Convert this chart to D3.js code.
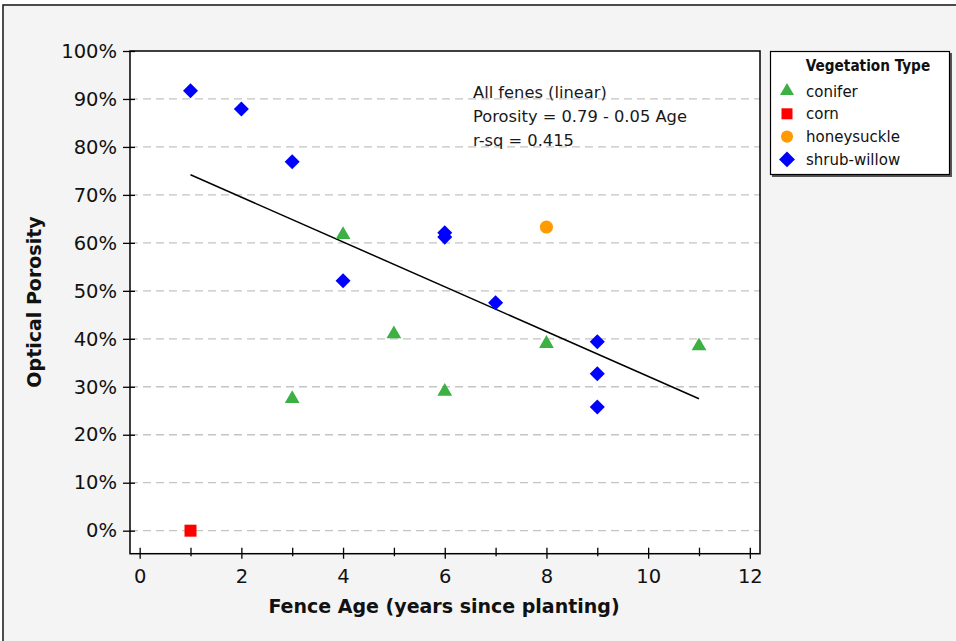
<!DOCTYPE html>
<html>
<head>
<meta charset="utf-8">
<script src="https://cdn.jsdelivr.net/npm/d3@7"></script>
<style>
  body { margin: 0; background: #fff; }
  svg { display: block; }
</style>
</head>
<body>
<svg id="chart" width="956" height="641"></svg>
<script>
// Data
const types = ['conifer', 'corn', 'honeysuckle', 'shrub-willow'];
const coniferAge = [3, 4, 5, 6, 8, 11];
const coniferPorosity = [0.275, 0.617, 0.41, 0.29, 0.39, 0.385];
const cornAge = [1];
const cornPorosity = [0.0];
const honeysuckleAge = [8];
const honeysucklePorosity = [0.633];
const willowAge = [1, 2, 3, 4, 6, 6, 7, 9, 9, 9];
const willowPorosity = [0.917, 0.879, 0.769, 0.521, 0.621, 0.612, 0.475, 0.394, 0.327, 0.258];
const fitAge = [1, 11];
const fitPorosity = [0.742, 0.275];
const yTicks = [0, 0.1, 0.2, 0.3, 0.4, 0.5, 0.6, 0.7, 0.8, 0.9, 1.0];
const xTicks = [0, 1, 2, 3, 4, 5, 6, 7, 8, 9, 10, 11, 12];
const noteLines = ['All fenes (linear)', 'Porosity = 0.79 - 0.05 Age', 'r-sq = 0.415'];

const colors = {
  'conifer': '#3cb043',
  'corn': '#ff0000',
  'honeysuckle': '#ff9a00',
  'shrub-willow': '#0000ff',
};

const svg = d3.select('#chart');
const font = 'DejaVu Sans, sans-serif';

// outer panel
svg.append('rect')
  .attr('x', 3).attr('y', 5).attr('width', 1000).attr('height', 700)
  .attr('fill', '#f4f4f4').attr('stroke', '#222').attr('stroke-width', 1.6);

const x = d3.scaleLinear().domain([-0.19, 12.2]).range([130, 760]);
const y = d3.scaleLinear().domain([-0.048, 1]).range([553.7, 51]);

// plot area
svg.append('rect')
  .attr('x', x.range()[0]).attr('y', y.range()[1])
  .attr('width', x.range()[1] - x.range()[0])
  .attr('height', y.range()[0] - y.range()[1])
  .attr('fill', '#fff');

// grid lines
svg.append('g')
  .selectAll('line')
  .data(yTicks.filter(d => d < 1))
  .join('line')
  .attr('x1', x.range()[0]).attr('x2', x.range()[1])
  .attr('y1', d => y(d)).attr('y2', d => y(d))
  .attr('stroke', '#c4c4c4').attr('stroke-width', 1.3)
  .attr('stroke-dasharray', '8,5');

// regression line
svg.append('line')
  .attr('x1', x(fitAge[0])).attr('y1', y(fitPorosity[0]))
  .attr('x2', x(fitAge[1])).attr('y2', y(fitPorosity[1]))
  .attr('stroke', '#000').attr('stroke-width', 1.5);

// frame
svg.append('rect')
  .attr('x', x.range()[0]).attr('y', y.range()[1])
  .attr('width', x.range()[1] - x.range()[0])
  .attr('height', y.range()[0] - y.range()[1])
  .attr('fill', 'none').attr('stroke', '#000').attr('stroke-width', 1.5);

// y axis
const yAxis = svg.append('g')
  .attr('transform', `translate(${x.range()[0]},0)`)
  .call(d3.axisLeft(y).tickValues(yTicks).tickFormat(d3.format('.0%'))
    .tickSizeInner(7).tickSizeOuter(0).tickPadding(6));
yAxis.select('.domain').remove();
yAxis.selectAll('.tick line').attr('x1', 5).attr('stroke', '#000').attr('stroke-width', 1.3);
yAxis.selectAll('.tick text')
  .attr('font-family', font).attr('font-size', 19.5).attr('fill', '#111');

// x axis
const xAxis = svg.append('g')
  .attr('transform', `translate(0,${y.range()[0]})`)
  .call(d3.axisBottom(x).tickValues(xTicks)
    .tickFormat(d => (d % 2 === 0 ? d : ''))
    .tickSizeInner(5).tickSizeOuter(0).tickPadding(10));
xAxis.select('.domain').remove();
xAxis.selectAll('.tick line')
  .attr('y1', -6)
  .attr('y2', d => (d % 2 === 0 ? 5 : 2.5))
  .attr('stroke', '#000').attr('stroke-width', 1.3);
xAxis.selectAll('.tick text')
  .attr('font-family', font).attr('font-size', 19.5).attr('fill', '#111');

// axis titles
svg.append('text')
  .attr('x', (x.range()[0] + x.range()[1]) / 2 - 1).attr('y', 613)
  .attr('text-anchor', 'middle')
  .attr('font-family', font).attr('font-size', 19).attr('font-weight', 'bold')
  .attr('fill', '#111')
  .text('Fence Age (years since planting)');

svg.append('text')
  .attr('transform', 'translate(41,302) rotate(-90)')
  .attr('text-anchor', 'middle')
  .attr('font-family', font).attr('font-size', 19).attr('font-weight', 'bold')
  .attr('fill', '#111')
  .text('Optical Porosity');

// annotation
svg.append('g')
  .selectAll('text')
  .data(noteLines)
  .join('text')
  .attr('x', 473).attr('y', (d, i) => 98 + i * 24)
  .attr('font-family', font).attr('font-size', 16.3).attr('fill', '#1a1a1a')
  .text(d => d);

// markers
const shapes = {
  'conifer': d3.symbolTriangle,
  'corn': d3.symbolSquare,
  'honeysuckle': d3.symbolCircle,
  'shrub-willow': d3.symbolDiamond2,
};
const sizes = { 'conifer': 95, 'corn': 144, 'honeysuckle': 135, 'shrub-willow': 144 };

function pointsOf(type, ages, vals) {
  return ages.map((a, i) => ({ type, age: a, porosity: vals[i] }));
}
const points = [].concat(
  pointsOf('conifer', coniferAge, coniferPorosity),
  pointsOf('corn', cornAge, cornPorosity),
  pointsOf('honeysuckle', honeysuckleAge, honeysucklePorosity),
  pointsOf('shrub-willow', willowAge, willowPorosity),
);

svg.append('g')
  .selectAll('path')
  .data(points)
  .join('path')
  .attr('transform', d => `translate(${x(d.age)},${y(d.porosity)})`)
  .attr('d', d => d3.symbol(shapes[d.type], sizes[d.type])())
  .attr('fill', d => colors[d.type]);

// legend
const legend = svg.append('g');
legend.append('rect')
  .attr('x', 772).attr('y', 53).attr('width', 180).attr('height', 124)
  .attr('fill', '#555');
legend.append('rect')
  .attr('x', 770.5).attr('y', 51.5).attr('width', 179).attr('height', 123)
  .attr('fill', '#fff').attr('stroke', '#000').attr('stroke-width', 1.2);
legend.append('text')
  .attr('x', 868).attr('y', 71).attr('text-anchor', 'middle')
  .attr('font-family', 'DejaVu Sans Condensed, DejaVu Sans, sans-serif')
  .attr('font-size', 15.2).attr('font-weight', 'bold').attr('fill', '#111')
  .text('Vegetation Type');

const legendSizes = { 'conifer': 85, 'corn': 121, 'honeysuckle': 115, 'shrub-willow': 160 };
const items = legend.selectAll('g.item')
  .data(types)
  .join('g')
  .attr('class', 'item')
  .attr('transform', (d, i) => `translate(787,${91 + i * 22.8})`);
items.append('path')
  .attr('d', d => d3.symbol(shapes[d], legendSizes[d])())
  .attr('fill', d => colors[d]);
items.append('text')
  .attr('x', 19).attr('y', 5.5)
  .attr('font-family', font).attr('font-size', 15).attr('fill', '#111')
  .text(d => d);
</script>
</body>
</html>
